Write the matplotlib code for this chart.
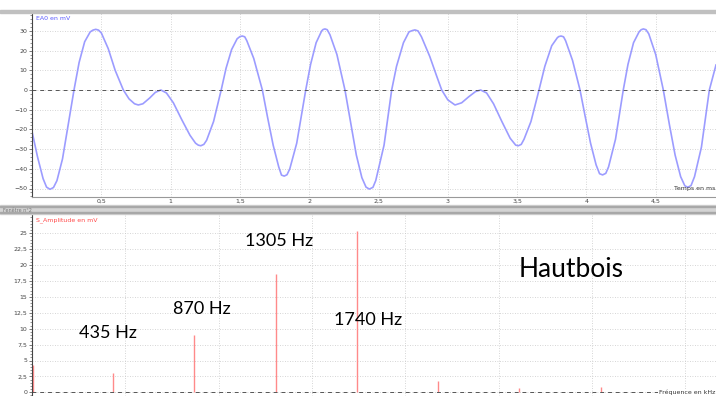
import numpy as np
import matplotlib.pyplot as plt
from matplotlib.patches import Rectangle
from matplotlib.ticker import FuncFormatter, MultipleLocator

t_ms = [0.00, 0.04, 0.08, 0.105, 0.13, 0.155, 0.18, 0.22, 0.26, 0.303, 0.34, 0.38,
        0.42, 0.44, 0.46, 0.48, 0.50, 0.55, 0.60, 0.659, 0.70, 0.74, 0.767, 0.80,
        0.85, 0.89, 0.93, 0.97, 1.02, 1.08, 1.14, 1.18, 1.20, 1.218, 1.24, 1.26,
        1.31, 1.365, 1.40, 1.44, 1.48, 1.50, 1.517, 1.535, 1.55, 1.60, 1.662, 1.70,
        1.74, 1.78, 1.80, 1.82, 1.84, 1.86, 1.91, 1.975, 2.01, 2.05, 2.09, 2.10,
        2.114, 2.13, 2.15, 2.20, 2.258, 2.30, 2.34, 2.38, 2.41, 2.434, 2.46, 2.48,
        2.54, 2.595, 2.63, 2.68, 2.72, 2.745, 2.763, 2.785, 2.81, 2.87, 2.92, 2.956,
        3.00, 3.052, 3.10, 3.15, 3.20, 3.237, 3.28, 3.33, 3.39, 3.45, 3.49, 3.509,
        3.53, 3.55, 3.60, 3.658, 3.70, 3.75, 3.79, 3.80, 3.817, 3.835, 3.85, 3.90,
        3.954, 3.99, 4.03, 4.07, 4.095, 4.117, 4.14, 4.16, 4.21, 4.266, 4.30, 4.34,
        4.38, 4.395, 4.411, 4.43, 4.45, 4.50, 4.555, 4.60, 4.64, 4.68, 4.71, 4.731,
        4.755, 4.78, 4.83, 4.887, 4.935]
ea0_mv = [-21, -34, -45, -49.3, -50.4, -49.5, -46, -35, -18, 0, 14, 24.5,
          29.5, 30.4, 30.8, 30.4, 29, 21, 10, 0, -4.5, -7, -7.6, -7,
          -4, -1.2, 0, -1.5, -6.5, -15, -23, -27, -28.0, -28.3, -27.6, -25.5,
          -16, 0, 11, 20.5, 26, 27.1, 27.4, 27.0, 25, 16, 0, -14,
          -28, -39, -43.2, -43.7, -43.0, -40, -27, 0, 13, 24, 30, 30.7,
          31, 30.6, 28, 18, 0, -17, -33, -44.5, -49.3, -50.3, -49.4, -46,
          -28, 0, 12, 24, 29.5, 30.2, 30.5, 30.0, 27, 17, 7, 0,
          -5, -7.6, -6.5, -3.5, -0.8, 0, -1.5, -7, -16, -24.5, -28.0, -28.3,
          -27.6, -25, -16, 0, 12, 22.5, 26.5, 27.1, 27.4, 27.0, 25, 15,
          0, -13, -27, -38, -42.5, -43.1, -42.3, -39, -25, 0, 13, 24,
          29.5, 30.6, 31, 30.6, 28.5, 18, 0, -18, -33, -44, -48.6, -49.4,
          -48.5, -44, -29, 0, 12.7]

# spectre (fréquence en kHz, amplitude en mV)
freq_khz = [0.005, 0.435, 0.870, 1.305, 1.740, 2.175, 2.610, 3.045, 3.480]
ampl_mv = [4.3, 3.0, 9.0, 18.6, 25.4, 1.8, 0.6, 0.9, 0.4]

peak_labels = ["435 Hz", "870 Hz", "1305 Hz", "1740 Hz"]
label_pos = [(0.25, 9.3), (0.755, 13.1), (1.14, 23.8), (1.62, 11.3)]

W, H = 716, 396
fig = plt.figure(figsize=(W / 100, H / 100), dpi=100)
fig.patch.set_facecolor("white")

def fx(px):
    return px / W

def fy(py):
    return 1 - py / H

comma = FuncFormatter(lambda v, p: ("%g" % v).replace(".", ","))
grid_kw = dict(color="#c8c8c8", linewidth=0.6, linestyle=(0, (1, 2)))

# bandeaux gris de la fenêtre
fig.patches.append(Rectangle((0, fy(13)), 1, 3 / H, transform=fig.transFigure,
                             color="#c0c0c0", zorder=0))
fig.patches.append(Rectangle((0, fy(214)), 1, 9 / H, transform=fig.transFigure,
                             color="#d4d4d4", zorder=0))
fig.patches.append(Rectangle((0, fy(207)), 1, 1.5 / H, transform=fig.transFigure,
                             color="#a8a8a8", zorder=0))
fig.patches.append(Rectangle((0, fy(213)), 1, 1.5 / H, transform=fig.transFigure,
                             color="#a8a8a8", zorder=0))
fig.text(fx(3), fy(210), "Fenêtre n°2", fontsize=3.5, color="#777777", va="center")

# --- oscillogramme ---
ax1 = fig.add_axes([fx(32), fy(197), fx(716 - 32), (197 - 13) / H])
ax1.plot(t_ms, ea0_mv, color="#9c9cff", linewidth=1.2)
ax1.axhline(0, color="#555555", linewidth=0.7, linestyle=(0, (4, 4)))
ax1.set_xlim(0, (716 - 32) / 138.6)
ax1.set_ylim((90 - 197) / 1.97, (90 - 13) / 1.97)
ax1.set_xticks([0.5, 1, 1.5, 2, 2.5, 3, 3.5, 4, 4.5])
ax1.set_yticks([30, 20, 10, 0, -10, -20, -30, -40, -50])
ax1.yaxis.set_minor_locator(MultipleLocator(2))
ax1.xaxis.set_major_formatter(comma)
ax1.grid(True, **grid_kw)
ax1.text(0.006, 0.985, "EA0 en mV", transform=ax1.transAxes, fontsize=4.5,
         color="#5a5aff", va="top", ha="left")
ax1.text(0.999, 0.035, "Temps en ms", transform=ax1.transAxes, fontsize=4.5,
         color="#333333", va="bottom", ha="right")

# --- spectre ---
ax2 = fig.add_axes([fx(32), 0, fx(716 - 32), (396 - 215) / H])
ax2.vlines(freq_khz, 0, ampl_mv, color="#ff8a8a", linewidth=1.0)
ax2.axhline(0, color="#555555", linewidth=0.7, linestyle=(0, (4, 4)))
ax2.set_xlim(0, (716 - 32) / 186.7)
ax2.set_ylim(-(396 - 392.3) / 6.36, (392.3 - 215) / 6.36)
ax2.set_xticks([0.5, 1, 1.5, 2, 2.5, 3, 3.5])
ax2.set_xticklabels([])
ax2.set_yticks(np.arange(0, 25.1, 2.5))
ax2.yaxis.set_minor_locator(MultipleLocator(0.5))
ax2.yaxis.set_major_formatter(comma)
ax2.grid(True, **grid_kw)
ax2.text(0.006, 0.985, "S_Amplitude en mV", transform=ax2.transAxes, fontsize=4.5,
         color="#ff4a4a", va="top", ha="left")
ax2.text(0.999, 0.005, "Fréquence en kHz", transform=ax2.transAxes, fontsize=4.5,
         color="#333333", va="bottom", ha="right",
         bbox=dict(facecolor="white", edgecolor="none", pad=0.5))

for lab, (x, y) in zip(peak_labels, label_pos):
    ax2.text(x, y, lab, fontsize=13, family="Lato", color="black", va="center")
ax2.text(2.605, 19.3, "Hautbois", fontsize=19, family="Lato", color="black",
         va="center")

for ax in (ax1, ax2):
    ax.set_facecolor("white")
    for s in ("top", "right", "bottom"):
        ax.spines[s].set_visible(False)
    ax.spines["left"].set_color("#444444")
    ax.spines["left"].set_linewidth(0.8)
    ax.tick_params(axis="both", labelsize=4.5, labelcolor="#444444", length=2,
                   width=0.5, color="#444444", pad=1.5)
    ax.tick_params(axis="y", which="minor", length=1.2, width=0.4, color="#444444")
    ax.tick_params(axis="x", length=0)

ax1.spines["bottom"].set_visible(True)
ax1.spines["bottom"].set_color("#999999")
ax1.spines["bottom"].set_linewidth(0.8)

fig.savefig("out.png", dpi=100)
